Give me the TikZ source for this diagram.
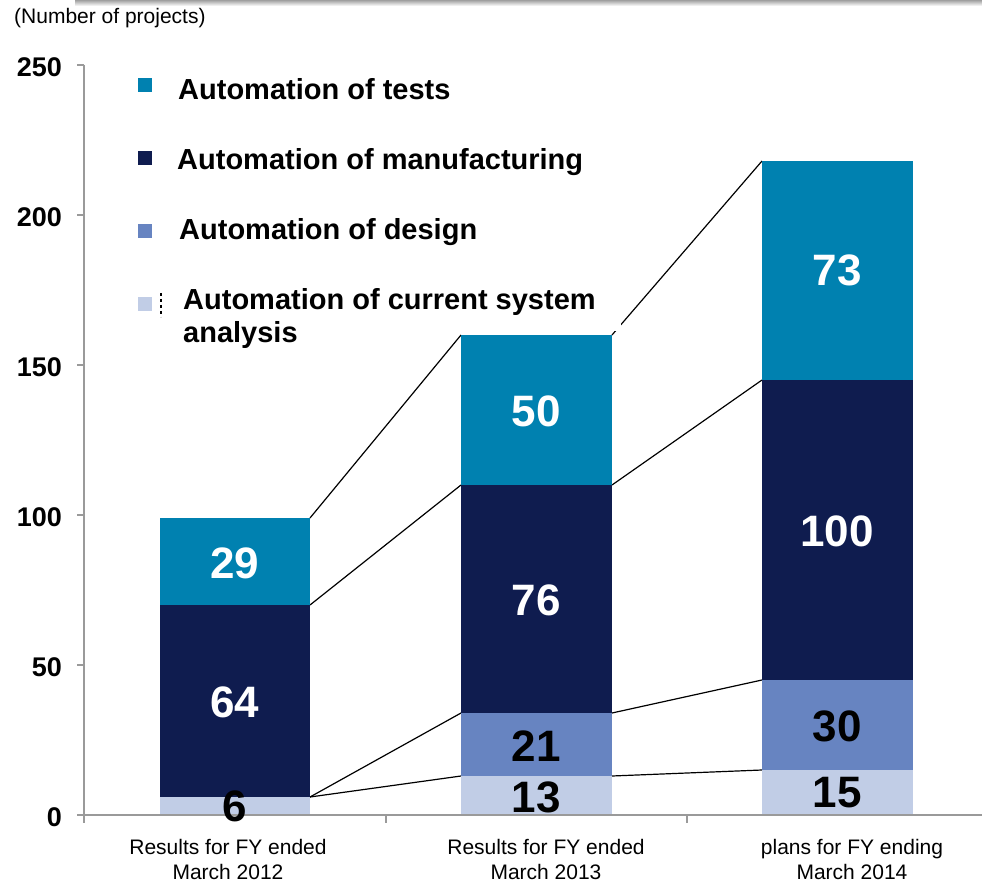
\documentclass[tikz,border=0pt]{standalone}
\usepackage{fontspec}
\setmainfont{Liberation Sans}
\definecolor{ctest}{HTML}{0081B0}
\definecolor{cmanu}{HTML}{0F1C4F}
\definecolor{cdes}{HTML}{6784C1}
\definecolor{ccur}{HTML}{C1CDE6}
\definecolor{caxis}{HTML}{9A9A9A}
\begin{document}
\begin{tikzpicture}[x=1pt,y=-1pt,
  conn/.style={black,line width=1.2pt},
  axisline/.style={caxis,line width=1.8pt},
  legtext/.style={anchor=base west,inner sep=0pt,font=\bfseries\fontsize{29}{34}\selectfont},
  legsq/.style={minimum size=14pt,inner sep=0pt,anchor=north west},
  numw/.style={inner sep=0pt,text=white,font=\bfseries\fontsize{44}{50}\selectfont},
  numb/.style={inner sep=0pt,text=black,font=\bfseries\fontsize{44}{50}\selectfont},
  ylab/.style={anchor=east,inner sep=0pt,font=\bfseries\fontsize{27}{30}\selectfont},
  catlab/.style={align=center,inner sep=0pt,font=\fontsize{21}{25}\selectfont}]
\useasboundingbox (0,0) rectangle (982,882);
\fill[white] (0,0) rectangle (982,882);
% top strip
\shade[top color=gray!75,bottom color=white] (75,0) rectangle (982,6);
% corner coordinates
\coordinate (a1) at (310,797);
\coordinate (a2) at (310,605);
\coordinate (a3) at (310,518);
\coordinate (b1L) at (461,776);
\coordinate (b2L) at (461,713);
\coordinate (b3L) at (461,485);
\coordinate (b4L) at (461,335);
\coordinate (b1R) at (612,776);
\coordinate (b2R) at (612,713);
\coordinate (b3R) at (612,485);
\coordinate (b4R) at (612,335);
\coordinate (c1) at (762,770);
\coordinate (c2) at (762,680);
\coordinate (c3) at (762,380);
\coordinate (c4) at (762,161);
% connectors
\draw[conn] (a1) -- (b1L);
\draw[conn] (a1) -- (b2L);
\draw[conn] (a2) -- (b3L);
\draw[conn] (a3) -- (b4L);
\draw[conn] (b1R) -- (c1);
\draw[conn] (b2R) -- (c2);
\draw[conn] (b3R) -- (c3);
\draw[conn] (b4R) -- (c4);
% legend background
\fill[white] (100,60) rectangle (621,331);
% bars
\fill[ccur]  (160,815) rectangle (310,797);
\fill[cmanu] (160,797) rectangle (310,605);
\fill[ctest] (160,605) rectangle (310,518);
\fill[ccur]  (461,815) rectangle (612,776);
\fill[cdes]  (461,776) rectangle (612,713);
\fill[cmanu] (461,713) rectangle (612,485);
\fill[ctest] (461,485) rectangle (612,335);
\fill[ccur]  (762,815) rectangle (913,770);
\fill[cdes]  (762,770) rectangle (913,680);
\fill[cmanu] (762,680) rectangle (913,380);
\fill[ctest] (762,380) rectangle (913,161);
% axes
\draw[axisline] (84,65) -- (84,815);
\draw[axisline] (84,815) -- (982,815);
\foreach \yy in {65,215,365,515,665,815} \draw[axisline] (77,\yy) -- (84,\yy);
\foreach \xx in {84,386,687} \draw[axisline] (\xx,815) -- (\xx,823);
% y labels
\node[ylab] (y250) at (62,67) {250};
\node[ylab] (y200) at (62,217) {200};
\node[ylab] (y150) at (62,367) {150};
\node[ylab] (y100) at (62,517) {100};
\node[ylab] (y50)  at (62,667) {50};
\node[ylab] (y0)   at (62,817) {0};
\node[anchor=west,inner sep=0pt,font=\fontsize{21}{24}\selectfont] (unit) at (14,18) {(Number of projects)};
% legend
\node[legsq,fill=ctest] (sq1) at (138,78) {};
\node[legsq,fill=cmanu] (sq2) at (138,151) {};
\node[legsq,fill=cdes]  (sq3) at (138,224) {};
\node[legsq,fill=ccur]  (sq4) at (138,297) {};
\draw[black,line width=1.2pt,dash pattern=on 3pt off 3pt] (161,293) -- (161,317);
\node[legtext] (l1) at (178,100) {Automation of tests};
\node[legtext] (l2) at (177,170) {Automation of manufacturing};
\node[legtext] (l3) at (179,240) {Automation of design};
\node[legtext] (l4) at (183,310) {Automation of current system};
\node[legtext] (l4b) at (183,343) {analysis};
% value labels
\node[numw] (v29) at (235,563) {29};
\node[numw] (v64) at (235,702) {64};
\node[numb] (v6) at (235,806) {6};
\node[numw] (v50) at (536,411) {50};
\node[numw] (v76) at (536,600) {76};
\node[numb] (v21) at (536,746) {21};
\node[numb] (v13) at (536,797) {13};
\node[numw] (v73) at (837,270) {73};
\node[numw] (v100) at (837,531) {100};
\node[numb] (v30) at (837,726) {30};
\node[numb] (v15) at (837,793) {15};
% category labels
\node[catlab] (cat1) at (228,859) {Results for FY ended\\March 2012};
\node[catlab] (cat2) at (546,859) {Results for FY ended\\March 2013};
\node[catlab] (cat3) at (852,859) {plans for FY ending\\March 2014};
\end{tikzpicture}
\end{document}
